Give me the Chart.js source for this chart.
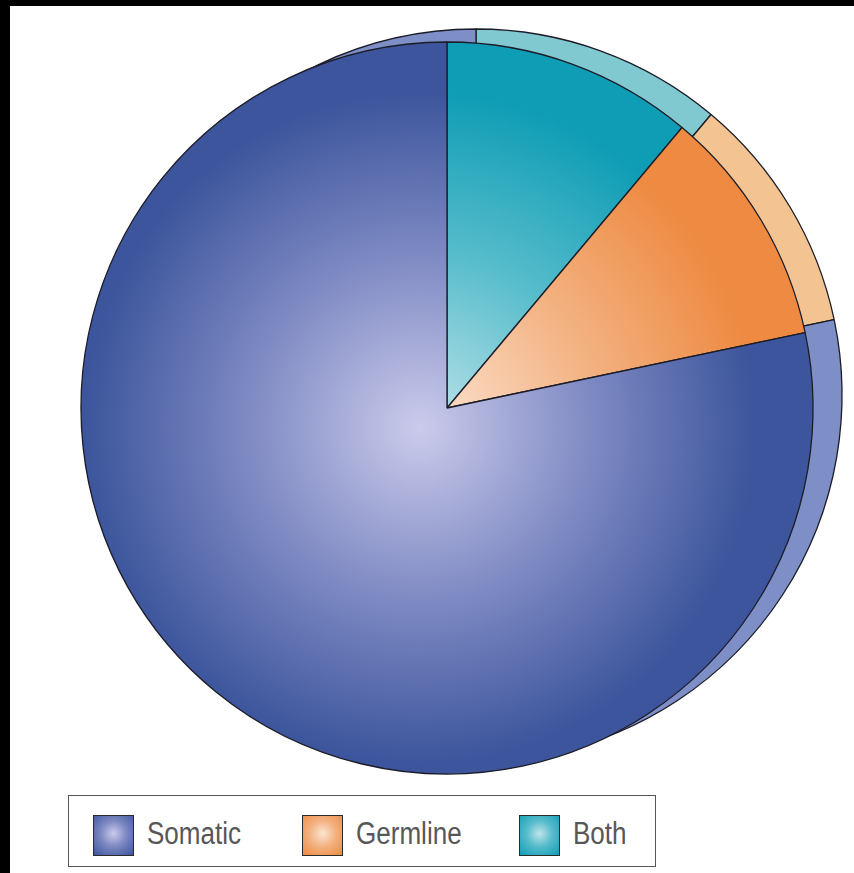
<!DOCTYPE html>
<html>
<head>
<meta charset="utf-8">
<script src="https://cdn.jsdelivr.net/npm/chart.js@4.4.0/dist/chart.umd.min.js"></script>
<style>
  html, body { margin: 0; padding: 0; background: #000; width: 854px; height: 873px; overflow: hidden; }
  #sheet { position: absolute; left: 10px; top: 6px; width: 844px; height: 867px; background: #fff; }
  canvas { position: absolute; }
  #back { left: 96px; top: 15px; }
  #front { left: 67px; top: 28px; }
  #legend { position: absolute; left: 68px; top: 795px; width: 588px; height: 72px;
            border: 1.5px solid #555; box-sizing: border-box; background: #fff; }
  .sw { position: absolute; top: 19px; width: 41px; height: 41px; box-sizing: border-box; border: 1.5px solid #2a2a2a; }
  .lb { position: absolute; top: 18px; font-family: "Liberation Sans", Arial, sans-serif;
        font-size: 31px; color: #575757; line-height: 40px; white-space: nowrap;
        transform: scaleX(0.84); transform-origin: 0 50%; }
</style>
</head>
<body>
<div id="sheet"></div>
<canvas id="back" width="760" height="760"></canvas>
<canvas id="front" width="760" height="760"></canvas>
<div id="legend"></div>
<script>
// ---- data ----
const categories = ['Somatic', 'Germline', 'Both'];
const values = [78.3, 10.6, 11.1];           // share of total (%)
const edgeColors = ['#3c559c', '#ee8a42', '#0f9db5'];
const midColors = ['#7c88c2', '#f3b282', '#56bccb'];
const centreColors = ['#cbcbeb', '#fce4d2', '#bfe4ea'];
const backColors = ['#7d8fc6', '#f3c491', '#80c9d1'];

// Pie drawn clockwise from 12 o'clock: Both, Germline, Somatic
const order = [2, 1, 0];
const pieLabels = order.map(i => categories[i]);
const pieValues = order.map(i => values[i]);

function gradFill(ctx) {
  const chart = ctx.chart;
  const i = order[ctx.dataIndex];
  if (!chart.chartArea) return edgeColors[i];
  const g = chart.ctx.createRadialGradient(353, 400, 0, 353, 400, 395);
  g.addColorStop(0, centreColors[i]);
  g.addColorStop(0.45, midColors[i]);
  g.addColorStop(0.85, edgeColors[i]);
  g.addColorStop(1, edgeColors[i]);
  return g;
}

const common = {
  type: 'pie',
  options: {
    responsive: false,
    animation: false,
    radius: 366,
    layout: { padding: 0 },
    plugins: { legend: { display: false }, tooltip: { enabled: false } },
    events: []
  }
};

new Chart(document.getElementById('back'), {
  ...common,
  data: {
    labels: pieLabels,
    datasets: [{
      data: pieValues,
      backgroundColor: order.map(i => backColors[i]),
      borderColor: '#1c1c28',
      borderWidth: 1.3,
      hoverOffset: 0
    }]
  }
});

new Chart(document.getElementById('front'), {
  ...common,
  data: {
    labels: pieLabels,
    datasets: [{
      data: pieValues,
      backgroundColor: gradFill,
      borderColor: '#1c1c28',
      borderWidth: 1.3,
      hoverOffset: 0
    }]
  }
});

// ---- legend (HTML, real text) ----
const legend = document.getElementById('legend');
const swLeft = [24, 233, 450];
categories.forEach((name, i) => {
  const sw = document.createElement('div');
  sw.className = 'sw';
  sw.style.left = swLeft[i] + 'px';
  sw.style.background = `radial-gradient(circle at 50% 45%, ${centreColors[i]} 0%, ${midColors[i]} 45%, ${edgeColors[i]} 100%)`;
  legend.appendChild(sw);
  const lb = document.createElement('div');
  lb.className = 'lb';
  lb.style.left = (swLeft[i] + 54) + 'px';
  lb.textContent = name;
  legend.appendChild(lb);
});
</script>
</body>
</html>
